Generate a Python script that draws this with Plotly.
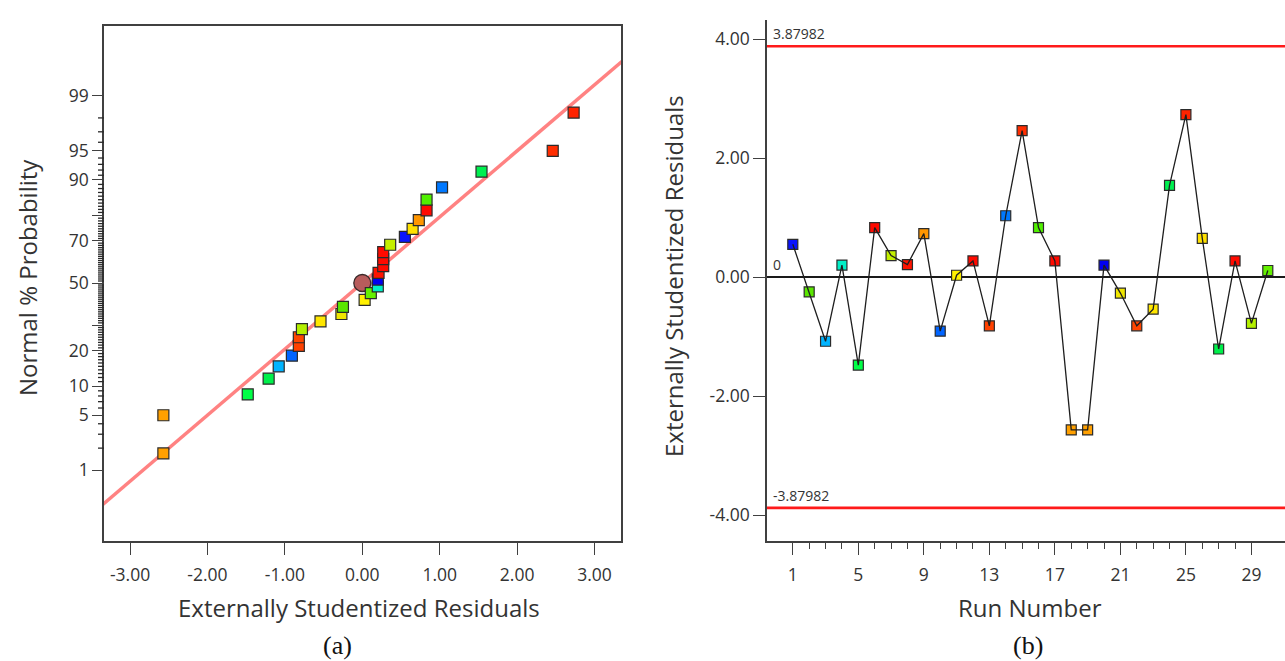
from statistics import NormalDist
import plotly.graph_objects as go

# ---------------------------------------------------------------
# Residual diagnostics: externally studentized residuals by run
# ---------------------------------------------------------------
run_number = list(range(1, 31))
residuals = [0.55, -0.25, -1.08, 0.20, -1.48, 0.83, 0.36, 0.21, 0.73, -0.91,
             0.03, 0.27, -0.82, 1.03, 2.46, 0.83, 0.27, -2.57, -2.57, 0.20,
             -0.27, -0.82, -0.54, 1.54, 2.73, 0.65, -1.21, 0.27, -0.78, 0.11]
run_colors = ["#0a14ff", "#5ae600", "#00b4ff", "#00f0c8", "#00ff46", "#ff0a00",
              "#c3f000", "#ff1400", "#ff9600", "#0064ff", "#fff000", "#ff0a00",
              "#ff4100", "#0078ff", "#ff2d00", "#50f000", "#ff0a00", "#ffa000",
              "#ffa000", "#0000f0", "#f0e600", "#ff4600", "#ffe600", "#00f050",
              "#ff2300", "#ffe100", "#00f04b", "#ff0a00", "#b4f000", "#64f000"]

# normal probability plotting positions (percent) for the 30 ranked residuals
normal_pct = [1.7, 5.0, 8.3, 11.7, 15.0, 18.3, 21.7, 25.0, 28.3, 31.7,
              35.0, 38.3, 41.7, 45.0, 48.3, 51.7, 55.0, 58.3, 61.7, 65.0,
              68.3, 71.7, 75.0, 78.3, 81.7, 85.0, 88.3, 91.7, 95.0, 98.3]

# reference line of the normal plot and its centre point
fit_line_x = [-3.4, 3.4]
fit_line_pct = [0.26, 99.74]
centre_x = [0.0]
centre_pct = [50.0]

# probability-axis ticks
prob_major = [1, 5, 10, 20, 30, 50, 70, 80, 90, 95, 99]
prob_labels = ["1", "5", "10", "20", "", "50", "70", "", "90", "95", "99"]
prob_minor = [p for p in range(1, 100) if p not in prob_major]

# residual-axis ticks
resid_ticks = [-3, -2, -1, 0, 1, 2, 3]
resid_labels = ["-3.00", "-2.00", "-1.00", "0.00", "1.00", "2.00", "3.00"]

# run chart limits and ticks
limit = 3.87982
run_ticks = [1, 5, 9, 13, 17, 21, 25, 29]
run_minor = [r for r in range(1, 30) if r not in run_ticks]
stud_ticks = [4, 2, 0, -2, -4]
stud_labels = ["4.00", "2.00", "0.00", "-2.00", "-4.00"]

nd = NormalDist()


def z(p):
    return nd.inv_cdf(p / 100.0)


W, H = 1285, 661
FONT = "Open Sans"
INK = "#333333"
AXIS = "#404040"

order = sorted(range(len(residuals)), key=lambda i: residuals[i])
sorted_res = [residuals[i] for i in order]
sorted_col = [run_colors[i] for i in order]

fig = go.Figure()

# --- (a) normal probability plot ---
fig.add_trace(go.Scatter(
    x=fit_line_x, y=[z(p) for p in fit_line_pct], mode="lines",
    line=dict(color="#ff8282", width=3.5), xaxis="x", yaxis="y",
    hoverinfo="skip", showlegend=False))
fig.add_trace(go.Scatter(
    x=centre_x, y=[z(p) for p in centre_pct], mode="markers",
    marker=dict(symbol="circle", size=17, color="#b85c5c",
                line=dict(color="#3a2a2a", width=1.3)),
    xaxis="x", yaxis="y", showlegend=False))
fig.add_trace(go.Scatter(
    x=sorted_res, y=[z(p) for p in normal_pct], mode="markers",
    marker=dict(symbol="square", size=11, color=sorted_col,
                line=dict(color="#2b2b2b", width=1.2)),
    xaxis="x", yaxis="y", showlegend=False))

# --- (b) residuals vs run ---
fig.add_trace(go.Scatter(
    x=run_number, y=residuals, mode="markers",
    marker=dict(symbol="square", size=10, color=run_colors,
                line=dict(color="#2b2b2b", width=1.2)),
    xaxis="x2", yaxis="y2", showlegend=False))
fig.add_trace(go.Scatter(
    x=run_number, y=residuals, mode="lines",
    line=dict(color="#1e1e1e", width=1.3),
    xaxis="x2", yaxis="y2", showlegend=False))


def px_x(p):
    return p / W


def px_y(p):
    return 1 - p / H


tickfont = dict(family=FONT, size=17.5, color=INK)
left_x0, left_x1 = 104, 621

fig.update_layout(
    width=W, height=H,
    margin=dict(l=0, r=0, t=0, b=0),
    paper_bgcolor="white", plot_bgcolor="white",
    xaxis=dict(domain=[px_x(left_x0), px_x(left_x1)], range=[-3.337, 3.342],
               anchor="y", showgrid=False, zeroline=False,
               showline=True, linecolor=AXIS, linewidth=1.5, mirror=True,
               ticks="outside", ticklen=12, tickwidth=1.2, tickcolor=AXIS,
               tickmode="array", tickvals=resid_ticks, ticktext=resid_labels,
               tickfont=tickfont, ticklabelstandoff=5),
    yaxis=dict(domain=[px_y(541), px_y(26)], range=[-3.209, 3.197],
               anchor="x", showgrid=False, zeroline=False,
               showline=True, linecolor=AXIS, linewidth=1.5, mirror=True,
               ticks="outside", ticklen=10, tickwidth=1.2, tickcolor=AXIS,
               tickmode="array", tickvals=[z(p) for p in prob_major],
               ticktext=prob_labels, tickfont=tickfont),
    xaxis2=dict(domain=[px_x(767), 1.0], range=[-0.575, 31.05],
                anchor="y2", showgrid=False, zeroline=False,
                showline=True, linecolor=AXIS, linewidth=1.5,
                ticks="outside", ticklen=12, tickwidth=1.2, tickcolor=AXIS,
                tickmode="array", tickvals=run_ticks,
                ticktext=[str(v) for v in run_ticks], tickfont=tickfont,
                ticklabelstandoff=5,
                minor=dict(tickmode="array", tickvals=run_minor,
                           ticks="outside", ticklen=6, tickwidth=1,
                           tickcolor=AXIS, showgrid=False)),
    yaxis2=dict(domain=[px_y(541), px_y(20)], range=[-4.437, 4.320],
                anchor="x2", showgrid=False, zeroline=False,
                showline=True, linecolor=AXIS, linewidth=1.5,
                ticks="outside", ticklen=12, tickwidth=1.2, tickcolor=AXIS,
                tickmode="array", tickvals=stud_ticks, ticktext=stud_labels,
                tickfont=tickfont),
)

# 1 % minor ticks of the probability scale, drawn just outside the left axis
for p in prob_minor:
    fig.add_shape(type="line", xref="paper", yref="y",
                  x0=px_x(left_x0 - 6), x1=px_x(left_x0), y0=z(p), y1=z(p),
                  line=dict(color="#2a2a2a", width=1.3), layer="above")

# control limits and centre line
for yv, col, wd in [(limit, "#ff1a1a", 2.6), (-limit, "#ff1a1a", 2.6), (0, "#1a1a1a", 2.2)]:
    fig.add_shape(type="line", xref="x2 domain", yref="y2",
                  x0=0, x1=1, y0=yv, y1=yv,
                  line=dict(color=col, width=wd), layer="below")

small = dict(family=FONT, size=14, color=INK)
for yv, txt in [(limit, "3.87982"), (-limit, "-3.87982"), (0, "0")]:
    fig.add_annotation(xref="x2 domain", yref="y2", x=0, y=yv, text=txt,
                       showarrow=False, xanchor="left", yanchor="bottom",
                       xshift=4, yshift=1, font=small)

title_font = dict(family=FONT, size=24, color=INK)
annots = [
    (px_x(359), px_y(607), "Externally Studentized Residuals", 0),
    (px_x(27), px_y(278), "Normal % Probability", -90),
    (px_x(1030), px_y(607), "Run Number", 0),
    (px_x(673), px_y(276), "Externally Studentized Residuals", -90),
]
for x, y, txt, ang in annots:
    fig.add_annotation(xref="paper", yref="paper", x=x, y=y, text=txt,
                       showarrow=False, textangle=ang, font=title_font,
                       xanchor="center", yanchor="middle")

cap_font = dict(family="Liberation Serif", size=26, color="#111111")
for x, txt in [(337, "(a)"), (1028, "(b)")]:
    fig.add_annotation(xref="paper", yref="paper", x=px_x(x), y=px_y(645),
                       text=txt, showarrow=False, font=cap_font,
                       xanchor="center", yanchor="middle")

fig.write_html("out.html")
